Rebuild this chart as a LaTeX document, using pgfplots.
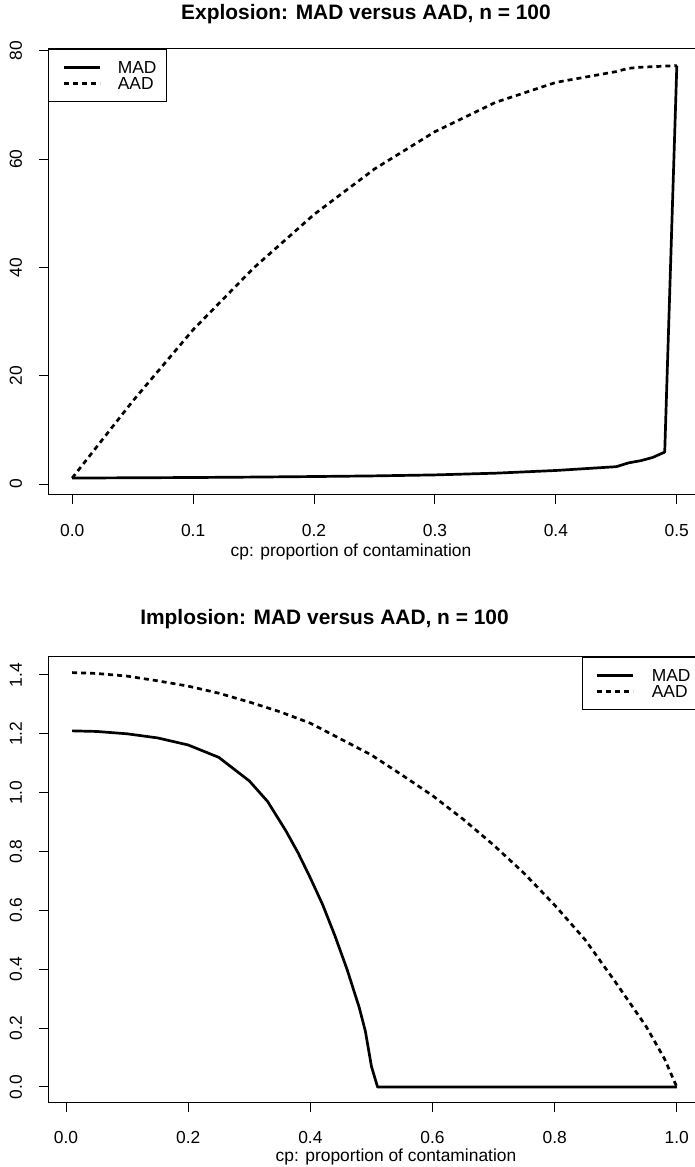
\documentclass[border=0pt]{standalone}
\usepackage{fontspec}
\setmainfont{Liberation Sans}
\usepackage{pgfplots}
\usepackage{pgfplotstable}
\pgfplotsset{compat=1.18}

% Explosion: outliers pushed far away
\pgfplotstableread{
cp    mad   aad
0.00  1.10  1.10
0.05  1.15  15.3
0.10  1.20  28.5
0.15  1.28  39.9
0.20  1.38  49.8
0.25  1.50  58.2
0.30  1.68  65.1
0.35  2.00  70.5
0.40  2.50  74.2
0.45  3.20  76.2
0.46  3.90  76.8
0.47  4.30  77.0
0.48  4.90  77.1
0.49  5.90  77.2
0.50  77.3  77.3
}\explosion

% Implosion: contamination placed at the centre
\pgfplotstableread{
cp    mad
0.01  1.210
0.05  1.208
0.10  1.200
0.15  1.186
0.20  1.162
0.25  1.120
0.30  1.040
0.33  0.970
0.36  0.870
0.38  0.795
0.40  0.710
0.42  0.620
0.44  0.515
0.46  0.400
0.48  0.270
0.49  0.190
0.50  0.070
0.51  0.000
0.60  0.000
0.70  0.000
0.80  0.000
0.90  0.000
1.00  0.000
}\implosionmad

\pgfplotstableread{
cp    aad
0.01  1.408
0.05  1.405
0.10  1.396
0.15  1.380
0.20  1.362
0.25  1.338
0.30  1.308
0.35  1.275
0.40  1.236
0.45  1.182
0.50  1.128
0.55  1.060
0.60  0.990
0.65  0.910
0.70  0.822
0.75  0.726
0.80  0.618
0.85  0.500
0.90  0.355
0.95  0.205
0.98  0.095
1.00  0.000
}\implosionaad

\newcommand{\tickfont}{\fontsize{17.4bp}{20bp}\selectfont}
\newcommand{\titlefont}{\fontsize{20.9bp}{24bp}\selectfont\bfseries}

\pgfplotsset{
  rplot/.style={
    scale only axis,
    width=653bp, height=446bp,
    axis line style={line width=1bp},
    every tick/.style={black, line width=1bp},
    major tick length=9bp,
    tick align=outside,
    xtick pos=lower, ytick pos=left,
    /pgf/number format/assume math mode=true,
    tick label style={font=\tickfont, inner sep=0pt},
    yticklabel style={rotate=90, anchor=base},
    yticklabel shift=17bp,
    legend cell align=left,
    legend style={draw=black, line width=1bp, font=\tickfont,
      inner xsep=10bp, inner ysep=11.75bp, row sep=3.5bp, column sep=17bp,
      cells={anchor=base west},
      nodes={inner sep=0pt, text height=12.5bp, text depth=0bp}},
    legend image code/.code={%
      \path[draw=none, fill=none] (0bp,0bp) rectangle (42bp,12.5bp);
      \draw[##1] (5bp,6.25bp) -- (41bp,6.25bp);},
  },
  madline/.style={black, line width=2.7bp, line join=round},
  aadline/.style={black, line width=2.7bp, dash pattern=on 5bp off 4bp},
}

\begin{document}
\begin{tikzpicture}

\begin{axis}[rplot,
  at={(48bp,672bp)}, anchor=south west,
  xmin=-0.02, xmax=0.52, ymin=-2.03, ymax=80.37,
  xtick={0,0.1,...,0.5}, ytick={0,20,...,80},
  xticklabel style={anchor=base, yshift=-33bp},
  xticklabel={\pgfmathprintnumber[fixed,fixed zerofill,precision=1]{\tick}},
  yticklabel={\pgfmathprintnumber[fixed,precision=0]{\tick}},
  legend style={at={(0,1)}, anchor=north west},
]
\addplot[madline] table[x=cp, y=mad] {\explosion};
\addplot[aadline] table[x=cp, y=aad] {\explosion};
\legend{MAD, AAD}
\end{axis}

\begin{axis}[rplot,
  at={(48bp,64bp)}, anchor=south west,
  xmin=-0.0296, xmax=1.0396, ymin=-0.0544, ymax=1.461,
  xtick={0,0.2,...,1.0}, ytick={0,0.2,...,1.4},
  xticklabel style={anchor=base, yshift=-31bp},
  xticklabel={\pgfmathprintnumber[fixed,fixed zerofill,precision=1]{\tick}},
  yticklabel={\pgfmathprintnumber[fixed,fixed zerofill,precision=1]{\tick}},
  legend style={at={(1,1)}, anchor=north east},
]
\addplot[madline] table[x=cp, y=mad] {\implosionmad};
\addplot[aadline] table[x=cp, y=aad] {\implosionaad};
\legend{MAD, AAD}
\end{axis}

% titles and axis labels
\node[anchor=base, font=\titlefont, inner sep=0pt] at (366bp,1147.5bp) {Explosion: MAD versus AAD, n = 100};
\node[anchor=base, font=\tickfont, inner sep=0pt] at (351bp,610bp) {cp: proportion of contamination};
\node[anchor=base, font=\titlefont, inner sep=0pt] at (324.5bp,542.5bp) {Implosion: MAD versus AAD, n = 100};
\node[anchor=base, font=\tickfont, inner sep=0pt] at (396bp,6bp) {cp: proportion of contamination};

\pgfresetboundingbox
\path[use as bounding box] (0,0) rectangle (695bp,1167bp);
\end{tikzpicture}
\end{document}
